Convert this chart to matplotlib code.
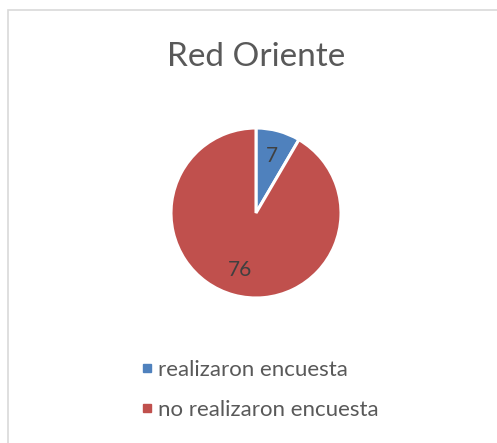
import matplotlib.pyplot as plt
from matplotlib.lines import Line2D
from matplotlib.patches import Rectangle

# data
categories = ['realizaron encuesta', 'no realizaron encuesta']
values = [7, 76]
colors = ['#4F81BD', '#C0504D']
title = 'Red Oriente'

plt.rcParams['font.family'] = ['Lato', 'DejaVu Sans']
text_color = '#595959'

fig = plt.figure(figsize=(4.97, 4.43), dpi=100)

# light chart border (Excel-like)
fig.patches.append(Rectangle((7.5 / 497, -0.1), 1.2, 1.1 - 10.5 / 443,
                             transform=fig.transFigure, fill=False,
                             edgecolor='#D9D9D9', linewidth=1.2))

# pie axes: centre ~ (256, 213) px, radius ~85 px
R = 85
ax = fig.add_axes([(256 - R) / 497, (443 - 213 - R) / 443, 2 * R / 497, 2 * R / 443])
wedges, texts, autotexts = ax.pie(values, colors=colors, startangle=90, counterclock=False,
                                  radius=1, autopct=lambda p: '%d' % round(p * sum(values) / 100),
                                  pctdistance=0.7,
                                  wedgeprops=dict(edgecolor='white', linewidth=2.2),
                                  textprops=dict(color='#404040', fontsize=15))
ax.set_xlim(-1, 1)
ax.set_ylim(-1, 1)
ax.set_aspect('equal')

fig.text(256 / 497, 1 - 57 / 443, title, ha='center', va='center',
         fontsize=24, color=text_color)

handles = [Line2D([], [], marker='s', linestyle='none', markersize=5.5,
                  markerfacecolor=c, markeredgecolor=c) for c in colors]
fig.legend(handles, categories, loc='upper left',
           bbox_to_anchor=(141 / 497, 1 - 360 / 443), frameon=False,
           fontsize=16, labelcolor=text_color, handlelength=0.5,
           handletextpad=0.25, labelspacing=0.9, borderpad=0, borderaxespad=0)

fig.savefig('out.png', dpi=100)
